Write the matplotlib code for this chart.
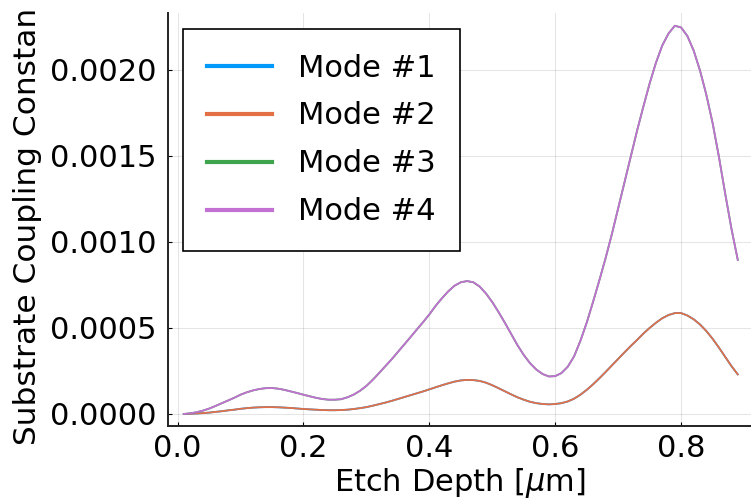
import numpy as np
import matplotlib
matplotlib.use("Agg")
import matplotlib.pyplot as plt

# etch depth samples [um], 0.01 .. 0.89
depth = np.round(np.arange(1, 90) * 0.01, 2)

# substrate coupling for modes 1/2 (degenerate pair)
k_low = [0.0, 0.000001, 0.000003, 0.000005, 0.000008, 0.000012, 0.000016, 0.000021, 0.000025, 0.000030,
         0.000034, 0.000037, 0.000039, 0.000040, 0.000040, 0.000039, 0.000037, 0.000035, 0.000032, 0.000029,
         0.000027, 0.000025, 0.000023, 0.000022, 0.000022, 0.000023, 0.000025, 0.000029, 0.000034, 0.000040,
         0.000048, 0.000057, 0.000066, 0.000076, 0.000087, 0.000098, 0.000109, 0.000120, 0.000131, 0.000143,
         0.000155, 0.000167, 0.000178, 0.000188, 0.000195, 0.000198, 0.000197, 0.000192, 0.000182, 0.000167,
         0.000150, 0.000132, 0.000114, 0.000097, 0.000083, 0.000071, 0.000063, 0.000058, 0.000056, 0.000058,
         0.000063, 0.000073, 0.000089, 0.000112, 0.000140, 0.000172, 0.000207, 0.000244, 0.000282, 0.000320,
         0.000358, 0.000395, 0.000430, 0.000467, 0.000500, 0.000530, 0.000556, 0.000575, 0.000586, 0.000586,
         0.000572, 0.000550, 0.000520, 0.000482, 0.000437, 0.000386, 0.000332, 0.000278, 0.000230]

# substrate coupling for modes 3/4 (degenerate pair)
k_high = [0.0, 0.000004, 0.000010, 0.000019, 0.000031, 0.000046, 0.000062, 0.000078, 0.000094, 0.000112,
          0.000126, 0.000137, 0.000145, 0.000150, 0.000151, 0.000147, 0.000140, 0.000131, 0.000122, 0.000112,
          0.000103, 0.000094, 0.000087, 0.000083, 0.000083, 0.000086, 0.000097, 0.000113, 0.000135, 0.000163,
          0.000198, 0.000237, 0.000277, 0.000317, 0.000360, 0.000403, 0.000446, 0.000490, 0.000533, 0.000578,
          0.000628, 0.000672, 0.000712, 0.000745, 0.000765, 0.000772, 0.000765, 0.000740, 0.000700, 0.000650,
          0.000592, 0.000530, 0.000465, 0.000400, 0.000343, 0.000295, 0.000258, 0.000232, 0.000218, 0.000220,
          0.000238, 0.000275, 0.000335, 0.000425, 0.000530, 0.000650, 0.000775, 0.000905, 0.001045, 0.001195,
          0.001345, 0.001495, 0.001645, 0.001785, 0.001920, 0.002040, 0.002140, 0.002210, 0.002255, 0.002245,
          0.002195, 0.002110, 0.001995, 0.001855, 0.001690, 0.001495, 0.001280, 0.001075, 0.000895]

labels = ["Mode #1", "Mode #2", "Mode #3", "Mode #4"]
colors = ["#009AFA", "#E36F47", "#3EA44E", "#C271D2"]
series = [k_low, k_low, k_high, k_high]

fig = plt.figure(figsize=(7.51, 5.00), dpi=100)
ax = fig.add_axes([168 / 751, 1 - 426 / 500, 1 - 168 / 751, 413 / 500])

for y, c, lab in zip(series, colors, labels):
    ax.plot(depth, y, color=c, lw=1.3, label=lab)

ax.set_xlim(-0.0151, 0.911)
ax.set_ylim(-0.0000697, 0.002329)
ax.set_xticks([0.0, 0.2, 0.4, 0.6, 0.8])
ax.set_yticks([0.0, 0.0005, 0.0010, 0.0015, 0.0020])
ax.set_xticklabels(["0.0", "0.2", "0.4", "0.6", "0.8"])
ax.set_yticklabels(["0.0000", "0.0005", "0.0010", "0.0015", "0.0020"])

ax.grid(True, color="black", alpha=0.1, lw=0.8)
ax.set_axisbelow(True)
for s in ("top", "right"):
    ax.spines[s].set_visible(False)
for s in ("left", "bottom"):
    ax.spines[s].set_linewidth(1.4)
    ax.spines[s].set_color("#222222")

ax.tick_params(direction="in", length=3, width=0.8, labelsize=22)
ax.tick_params(axis="y", pad=8)
ax.tick_params(axis="x", pad=6)

ax.set_xlabel(r"Etch Depth [$\mu$m]", fontsize=22, labelpad=2)
fig.text(0.037, 1 - 445 / 500, "Substrate Coupling Constan", rotation=90,
         ha="center", va="bottom", fontsize=22.5)

leg = ax.legend(loc="upper left", bbox_to_anchor=(0.0257, 0.961), borderaxespad=0,
                fontsize=22, handlelength=2.1, handletextpad=0.85, labelspacing=0.62,
                borderpad=0.8, fancybox=False, framealpha=1, edgecolor="black")
leg.get_frame().set_linewidth(1.2)
for line in leg.get_lines():
    line.set_linewidth(3)

fig.savefig("out.png", dpi=100)
